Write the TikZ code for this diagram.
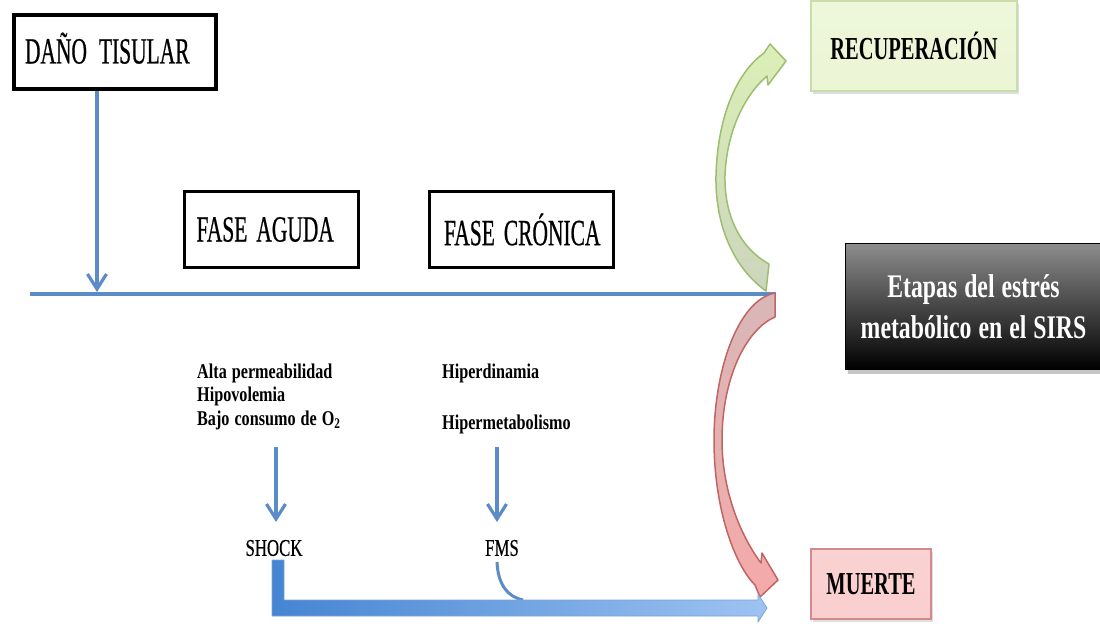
\documentclass[tikz,border=0pt]{standalone}
\usepackage{fontspec}
\setmainfont{Liberation Serif}
\newfontfamily\bigreg[FakeStretch=0.58,FakeBold=0.5]{Liberation Serif}
\newfontfamily\smallreg[FakeStretch=0.7,FakeBold=0.4]{Liberation Serif}
\newfontfamily\capbold[FakeStretch=0.64]{Liberation Serif}
\newfontfamily\titbold[FakeStretch=0.72]{Liberation Serif}
\newfontfamily\listbold[FakeStretch=0.77]{Liberation Serif}
\usetikzlibrary{arrows.meta,shadows}
\definecolor{lineblue}{HTML}{5B8CC8}
\definecolor{greenfill}{HTML}{DCEFB8}
\definecolor{greengray}{HTML}{CBD5BC}
\definecolor{greenline}{HTML}{9DBE6E}
\definecolor{redfill}{HTML}{F5A9A9}
\definecolor{redgray}{HTML}{D9B7B7}
\definecolor{redline}{HTML}{C06464}
\definecolor{recfill}{HTML}{EEF7DA}
\definecolor{recline}{HTML}{C9DCA9}
\definecolor{mufill}{HTML}{FAD2D2}
\definecolor{muline}{HTML}{D48A8A}
\definecolor{bardark}{HTML}{4585D2}
\definecolor{barlight}{HTML}{9EC3F2}
\tikzset{
  blackbox/.style={draw=black, line width=3.5pt, fill=white, inner sep=0pt},
  bigtext/.style={font=\bigreg\fontsize{37}{40}\selectfont},
  smalltext/.style={font=\smallreg\fontsize{24}{28}\selectfont},
  listtext/.style={font=\listbold\bfseries\fontsize{21}{23}\selectfont, anchor=base west, inner sep=0pt},
  thinarr/.style={draw=lineblue, line width=3.2pt, -{Straight Barb[length=15pt,width=19pt,line width=3.2pt]}},
  softshadow/.style={drop shadow={shadow xshift=2pt, shadow yshift=-3pt, opacity=0.25}},
}
\begin{document}
\begin{tikzpicture}[x=1pt,y=-1pt]
\useasboundingbox (0,0) rectangle (1100,626);
\fill[white] (0,0) rectangle (1100,626);

% boxes
\node[blackbox, minimum width=202pt, minimum height=74pt, text width=180pt, align=left, bigtext] (dano) at (115,52) {DAÑO\kern12pt TISULAR\vphantom{g}};
\node[blackbox, line width=3pt, minimum width=174pt, minimum height=76pt, text width=150pt, align=left, bigtext] (aguda) at (271.5,229.5) {FASE\kern9pt AGUDA};
\node[blackbox, line width=3pt, minimum width=184pt, minimum height=76pt, text width=155pt, align=left, bigtext] (cronica) at (521.5,229.5) {FASE\kern9pt CRÓNICA};

\node[softshadow, draw=recline, line width=1.2pt, top color=recfill, bottom color=recfill!85!greenfill, minimum width=206pt, minimum height=90pt, font=\capbold\bfseries\fontsize{32}{36}\selectfont] (rec) at (914,46) {RECUPERACIÓN};
\node[softshadow, draw=muline, line width=1.2pt, top color=mufill, bottom color=mufill!90!redfill, minimum width=120pt, minimum height=70pt, font=\capbold\bfseries\fontsize{32}{36}\selectfont] (muerte) at (871,584) {MUERTE};
\node[drop shadow={shadow xshift=2pt, shadow yshift=-4pt, opacity=0.45}, draw=black, line width=1pt, top color=black!45, bottom color=black, minimum width=256pt, minimum height=126pt, align=center, text=white, font=\titbold\bfseries\fontsize{33}{41}\selectfont] (etapas) at (973.5,306.5) {Etapas\kern7pt del\kern7pt estrés\\metabólico\kern7pt en\kern7pt el\kern7pt SIRS};

% main horizontal line
\coordinate (l1) at (30,294);
\coordinate (l2) at (776,294);
\coordinate (d1) at (97,292);
\draw[lineblue, line width=4pt] (l1) -- (l2);
\draw[thinarr] (dano.south -| d1) -- (d1);

% green curved arrow
\shade[top color=greenfill, bottom color=greengray, draw=greenline, line width=1.5pt, line join=round]
  (766,291) .. controls (730,265) and (715,220) .. (716,175)
  .. controls (718,110) and (740,70) .. (764,53)
  -- (770,44) -- (786,61) -- (768,85) -- (767,76)
  .. controls (745,95) and (727,130) .. (725,175)
  .. controls (724,215) and (740,248) .. (769,264) -- cycle;

% red curved arrow
\shade[top color=redgray, bottom color=redfill, draw=redline, line width=1.5pt, line join=round]
  (775,293) .. controls (738,300) and (714,370) .. (714,440)
  .. controls (714,510) and (735,565) .. (755,585)
  -- (760,597) -- (778,580) -- (762,553) -- (761,563)
  .. controls (740,535) and (722,490) .. (722,440)
  .. controls (722,380) and (745,330) .. (775,317) -- cycle;

% lists
\node[listtext] (t1) at (197,378) {Alta\kern5pt permeabilidad};
\node[listtext] (t2) at (197,401.5) {Hipovolemia};
\node[listtext] (t3) at (197,425) {Bajo\kern5pt consumo\kern5pt de\kern5pt O\textsubscript{2}};
\node[listtext] (t4) at (442,378) {Hiperdinamia};
\node[listtext] (t5) at (442,429) {Hipermetabolismo};

% shock / fms
\node[smalltext, inner sep=0pt] (shock) at (274,548) {SHOCK};
\node[smalltext, inner sep=0pt] (fms) at (502,548) {FMS};
\coordinate (a1) at (276,447);
\coordinate (a2) at (497,447);
\draw[thinarr] (a1) -- (a1 |- 0,522);
\draw[thinarr] (a2) -- (a2 |- 0,522);

% FMS curve
\coordinate (f1) at (497,562);
\coordinate (f2) at (523,600);
\draw[lineblue, line width=3pt] (f1) .. controls (498,585) and (508,597) .. (f2);

% thick L arrow
\coordinate (s1) at (272,560);
\coordinate (s2) at (767,608);
\shade[left color=bardark, right color=barlight, draw=lineblue!80!white, line width=0.8pt, line join=round]
  (s1) -- (284,560) -- (284,600) -- (758,600) -- (758,594) -- (s2) -- (758,622) -- (758,616) -- (272,616) -- cycle;
\end{tikzpicture}
\end{document}
